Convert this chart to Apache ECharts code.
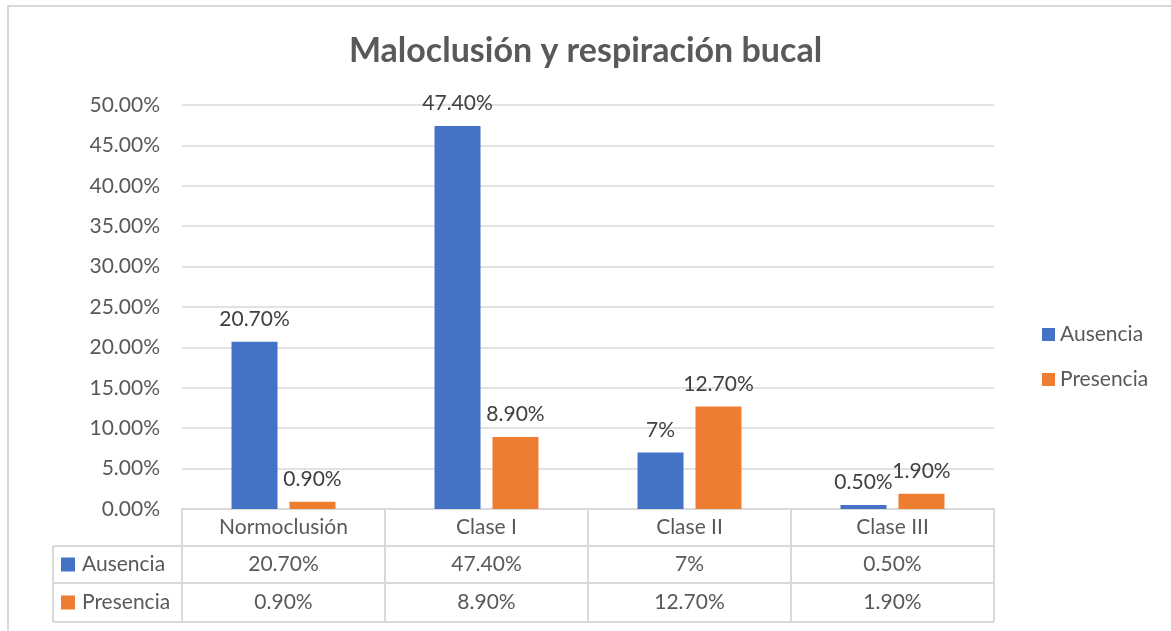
<!DOCTYPE html>
<html>
<head>
<meta charset="utf-8">
<script src="https://cdn.jsdelivr.net/npm/echarts@6/dist/echarts.min.js"></script>
<style>
  html, body { margin: 0; padding: 0; background: #fff; }
  #chart { width: 1171px; height: 631px; }
</style>
</head>
<body>
<div id="chart"></div>
<script>
const categories = ['Normoclusión', 'Clase I', 'Clase II', 'Clase III']
const ausencia = [20.7, 47.4, 7, 0.5]
const presencia = [0.9, 8.9, 12.7, 1.9]
// labels as Excel formatted them
const ausenciaLabels = ['20.70%', '47.40%', '7%', '0.50%']
const presenciaLabels = ['0.90%', '8.90%', '12.70%', '1.90%']

const FONT = 'Lato, "Noto Sans", sans-serif'
const FS = 21
const TEXT = '#595959'
const LINE = '#d9d9d9'
const BLUE = '#4472C4'
const ORANGE = '#ED7D31'

// plot area + data table rows under it
const grid = { left: 182, right: 177, top: 105, bottom: 122 }
const W = 1171, H = 631
const plotBottom = H - grid.bottom
const plotRight = W - grid.right
const rowLines = [546, 583, 622]
const tableLeft = 53

const chart = echarts.init(document.getElementById('chart'), null, { renderer: 'canvas' })

const rowLabel = (y, name, color) => [
  { type: 'rect', shape: { x: 61, y: y - 7, width: 14, height: 14 }, style: { fill: color } },
  {
    type: 'text',
    style: { x: 82, y: y, text: name, fill: TEXT, font: FS + 'px ' + FONT, textVerticalAlign: 'middle' },
  },
]

const hLine = (y) => ({
  type: 'line',
  shape: { x1: tableLeft, y1: y, x2: plotRight, y2: y },
  style: { stroke: LINE, lineWidth: 2 },
})

const barLabel = (labels) => ({
  show: true,
  position: 'top',
  distance: 12,
  fontSize: FS,
  color: '#404040',
  fontFamily: FONT,
  formatter: (p) => labels[p.dataIndex],
})

chart.setOption({
  backgroundColor: '#fff',
  animation: false,
  textStyle: { fontFamily: FONT },
  title: {
    text: 'Maloclusión y respiración bucal',
    left: 'center',
    top: 29,
    textStyle: { fontSize: 34, fontWeight: 'bold', color: TEXT, fontFamily: FONT },
  },
  legend: {
    orient: 'vertical',
    left: 1037,
    top: 319,
    icon: 'rect',
    itemWidth: 13,
    itemHeight: 13,
    itemGap: 24,
    textStyle: { fontSize: FS, color: TEXT, fontFamily: FONT },
    data: ['Ausencia', 'Presencia'],
  },
  grid: { ...grid, containLabel: false },
  xAxis: [
    {
      type: 'category',
      data: categories,
      position: 'bottom',
      axisLine: { lineStyle: { color: LINE, width: 2 } },
      axisTick: { show: true, length: rowLines[2] - plotBottom, lineStyle: { color: LINE, width: 2 } },
      axisLabel: { margin: 8, fontSize: FS, color: TEXT, fontFamily: FONT },
    },
    {
      type: 'category',
      data: ausenciaLabels,
      position: 'bottom',
      axisLine: { show: false },
      axisTick: { show: false },
      axisLabel: { margin: 45, fontSize: FS, color: TEXT, fontFamily: FONT },
    },
    {
      type: 'category',
      data: presenciaLabels,
      position: 'bottom',
      axisLine: { show: false },
      axisTick: { show: false },
      axisLabel: { margin: 83, fontSize: FS, color: TEXT, fontFamily: FONT },
    },
  ],
  yAxis: {
    type: 'value',
    min: 0,
    max: 50,
    interval: 5,
    axisLine: { show: false },
    axisTick: { show: false },
    splitLine: { lineStyle: { color: LINE, width: 1.5 } },
    axisLabel: {
      margin: 22,
      fontSize: FS,
      color: TEXT,
      fontFamily: FONT,
      formatter: (v) => v.toFixed(2) + '%',
    },
  },
  series: [
    {
      name: 'Ausencia',
      type: 'bar',
      xAxisIndex: 0,
      data: ausencia,
      barWidth: 46,
      barGap: '26%',
      itemStyle: { color: BLUE },
      label: barLabel(ausenciaLabels),
    },
    {
      name: 'Presencia',
      type: 'bar',
      xAxisIndex: 0,
      data: presencia,
      barWidth: 46,
      barGap: '26%',
      itemStyle: { color: ORANGE },
      label: barLabel(presenciaLabels),
    },
  ],
  graphic: [
    // outer chart frame (cut off at right/bottom like the screenshot)
    {
      type: 'rect',
      shape: { x: 8, y: 6, width: W + 20, height: H + 20 },
      style: { fill: null, stroke: LINE, lineWidth: 2 },
      silent: true,
    },
    ...rowLines.map(hLine),
    {
      type: 'line',
      shape: { x1: tableLeft, y1: rowLines[0], x2: tableLeft, y2: rowLines[2] },
      style: { stroke: LINE, lineWidth: 2 },
    },
    ...rowLabel((rowLines[0] + rowLines[1]) / 2, 'Ausencia', BLUE),
    ...rowLabel((rowLines[1] + rowLines[2]) / 2, 'Presencia', ORANGE),
  ],
})
</script>
</body>
</html>
